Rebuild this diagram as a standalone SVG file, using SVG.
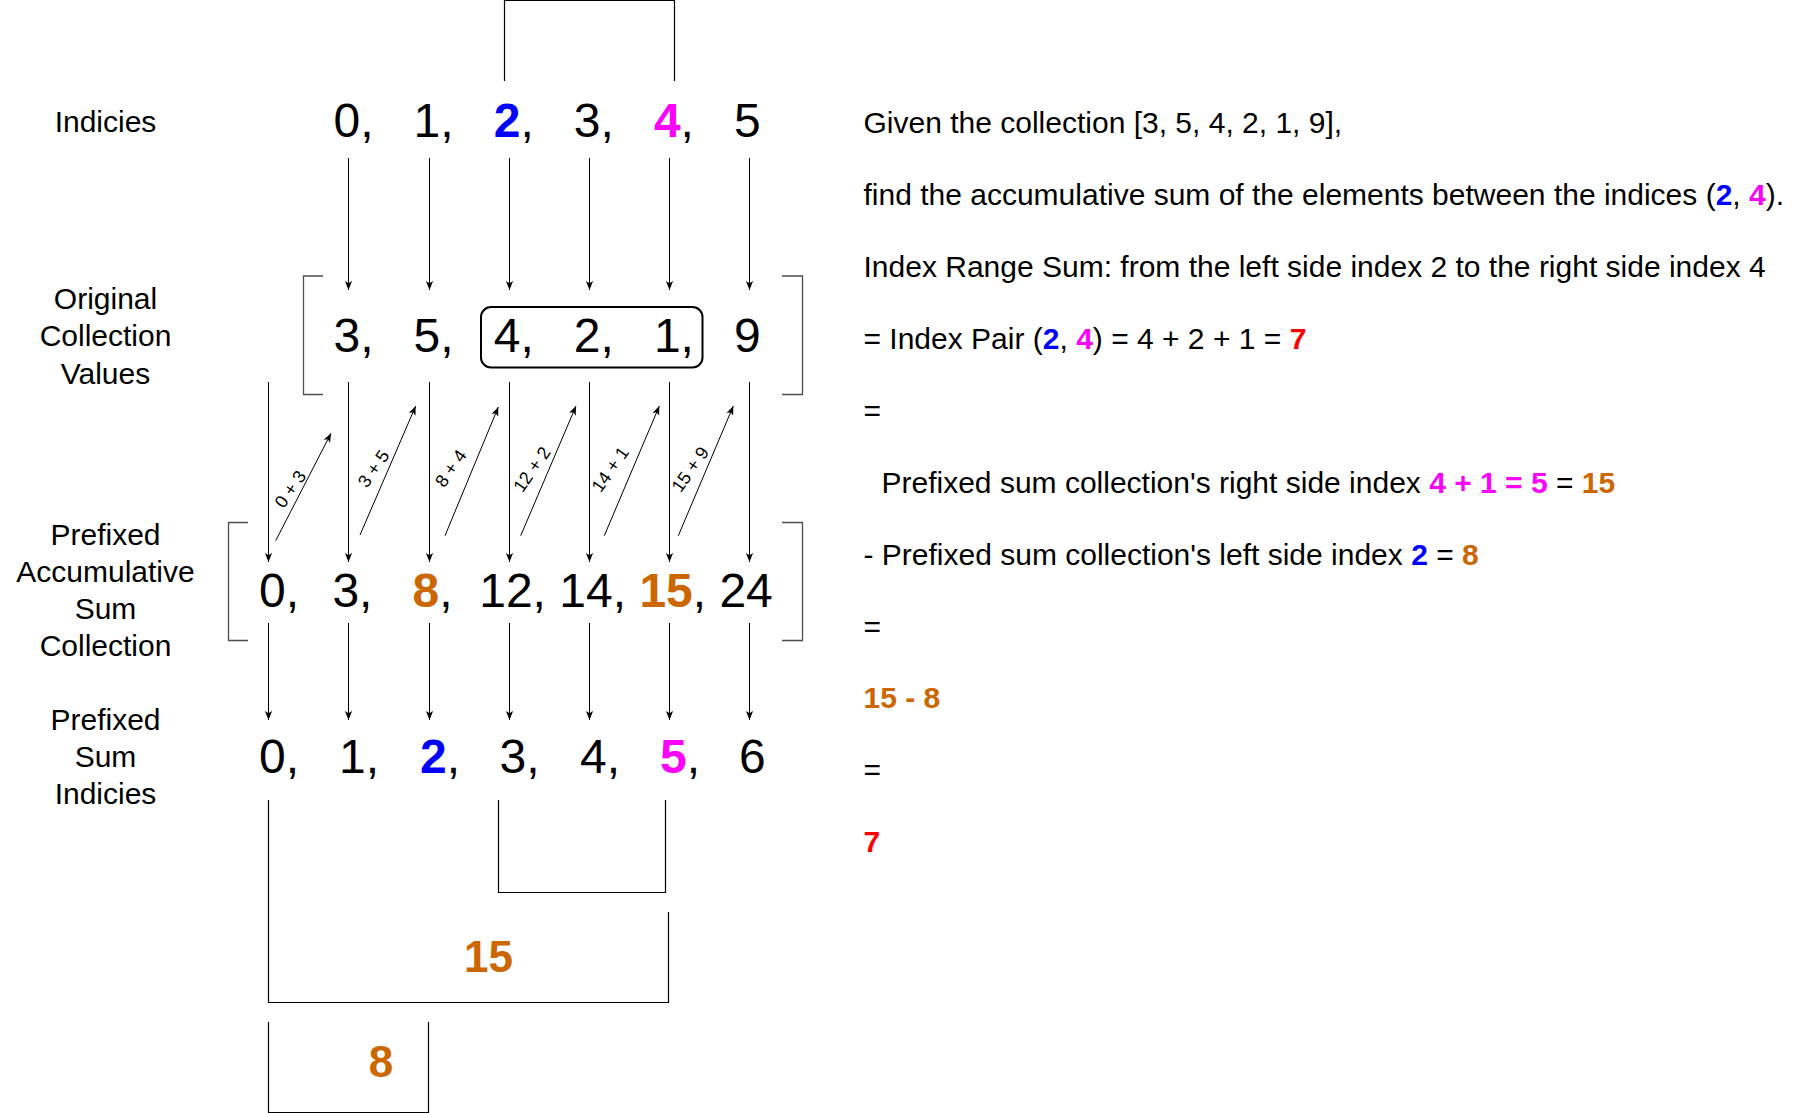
<svg xmlns="http://www.w3.org/2000/svg" width="1802" height="1113" viewBox="0 0 1802 1113">
<style>
text{font-family:"Liberation Sans",Arial,Helvetica,sans-serif;fill:#000}
.lbl{font-size:30px;text-anchor:middle}
.num{font-size:48px}
.rt{font-size:30px}
.sm{font-size:18px;text-anchor:middle}
.b{font-weight:bold}
.blue{fill:#0000FF}.mag{fill:#FF00FF}.org{fill:#CC6600}.red{fill:#FF0000}
.ln{stroke:#000;stroke-width:1;fill:none}
.arr{marker-end:url(#ah)}
.br{stroke:#4d4d4d;stroke-width:1.3;fill:none}
.bx{stroke:#000;stroke-width:1.2;fill:none}
</style>
<defs>
<marker id="ah" viewBox="0 0 10 10" refX="10" refY="5" markerWidth="9" markerHeight="9" markerUnits="userSpaceOnUse" orient="auto">
<path d="M0,1 L10,5 L0,9 L2.5,5 Z" fill="#000"/>
</marker>
</defs>
<rect width="1802" height="1113" fill="#fff"/>

<g id="label-indicies"><text class="lbl" x="105.5" y="131.5">Indicies</text></g>
<g id="label-original"><text class="lbl" x="105.5" y="309">Original</text><text class="lbl" x="105.5" y="346">Collection</text><text class="lbl" x="105.5" y="383.5">Values</text></g>
<g id="label-prefixed-acc"><text class="lbl" x="105.5" y="544.5">Prefixed</text><text class="lbl" x="105.5" y="581.5">Accumulative</text><text class="lbl" x="105.5" y="619">Sum</text><text class="lbl" x="105.5" y="656">Collection</text></g>
<g id="label-prefixed-idx"><text class="lbl" x="105.5" y="730">Prefixed</text><text class="lbl" x="105.5" y="767">Sum</text><text class="lbl" x="105.5" y="803.5">Indicies</text></g>

<g id="row-indices">
<text class="num" x="333.5" y="137">0,</text>
<text class="num" x="413.6" y="137">1,</text>
<text class="num" x="493.7" y="137"><tspan class="b blue">2</tspan>,</text>
<text class="num" x="573.8" y="137">3,</text>
<text class="num" x="653.9" y="137"><tspan class="b mag">4</tspan>,</text>
<text class="num" x="734" y="137">5</text>
</g>

<g id="row-values">
<text class="num" x="333.5" y="352">3,</text>
<text class="num" x="413.6" y="352">5,</text>
<text class="num" x="493.7" y="352">4,</text>
<text class="num" x="573.8" y="352">2,</text>
<text class="num" x="653.9" y="352">1,</text>
<text class="num" x="734" y="352">9</text>
<rect x="481" y="307" width="221.5" height="60.5" rx="10" ry="10" fill="none" stroke="#000" stroke-width="2"/>
<path class="br" d="M323,276 H303.5 V394.5 H323"/>
<path class="br" d="M782,276 H802.5 V394.5 H782"/>
</g>

<g id="row-prefix-sums">
<text class="num" x="259" y="607">0,</text>
<text class="num" x="332.4" y="607">3,</text>
<text class="num" x="412.5" y="607"><tspan class="b org">8</tspan>,</text>
<text class="num" x="479.2" y="607">12,</text>
<text class="num" x="559.3" y="607">14,</text>
<text class="num" x="639.4" y="607"><tspan class="b org">15</tspan>,</text>
<text class="num" x="719.4" y="607">24</text>
<path class="br" d="M248,522.5 H228.5 V640.5 H248"/>
<path class="br" d="M782,522.5 H802.5 V640.5 H782"/>
</g>

<g id="row-prefix-indices">
<text class="num" x="259" y="773">0,</text>
<text class="num" x="339.1" y="773">1,</text>
<text class="num" x="420" y="773"><tspan class="b blue">2</tspan>,</text>
<text class="num" x="499.5" y="773">3,</text>
<text class="num" x="580" y="773">4,</text>
<text class="num" x="660" y="773"><tspan class="b mag">5</tspan>,</text>
<text class="num" x="739" y="773">6</text>
</g>

<g id="connectors">
<line class="ln arr" x1="348.5" y1="158" x2="348.5" y2="290"/>
<line class="ln arr" x1="429.5" y1="158" x2="429.5" y2="290"/>
<line class="ln arr" x1="509.5" y1="158" x2="509.5" y2="290"/>
<line class="ln arr" x1="589.5" y1="158" x2="589.5" y2="290"/>
<line class="ln arr" x1="669.5" y1="158" x2="669.5" y2="290"/>
<line class="ln arr" x1="749.5" y1="158" x2="749.5" y2="290"/>

<line class="ln arr" x1="268.5" y1="382" x2="268.5" y2="562"/>
<line class="ln arr" x1="348.5" y1="382" x2="348.5" y2="562"/>
<line class="ln arr" x1="429.5" y1="382" x2="429.5" y2="562"/>
<line class="ln arr" x1="509.5" y1="382" x2="509.5" y2="562"/>
<line class="ln arr" x1="589.5" y1="382" x2="589.5" y2="562"/>
<line class="ln arr" x1="669.5" y1="382" x2="669.5" y2="562"/>
<line class="ln arr" x1="749.5" y1="382" x2="749.5" y2="562"/>

<line class="ln arr" x1="268.5" y1="623" x2="268.5" y2="720"/>
<line class="ln arr" x1="348.5" y1="623" x2="348.5" y2="720"/>
<line class="ln arr" x1="429.5" y1="623" x2="429.5" y2="720"/>
<line class="ln arr" x1="509.5" y1="623" x2="509.5" y2="720"/>
<line class="ln arr" x1="589.5" y1="623" x2="589.5" y2="720"/>
<line class="ln arr" x1="669.5" y1="623" x2="669.5" y2="720"/>
<line class="ln arr" x1="749.5" y1="623" x2="749.5" y2="720"/>

<line class="ln arr" x1="275.7" y1="540.7" x2="331" y2="433.3"/>
<line class="ln arr" x1="360" y1="535" x2="415.7" y2="406"/>
<line class="ln arr" x1="445" y1="535.7" x2="498.3" y2="407"/>
<line class="ln arr" x1="520.7" y1="535.7" x2="576" y2="406"/>
<line class="ln arr" x1="604.3" y1="535.7" x2="659.3" y2="406"/>
<line class="ln arr" x1="678.3" y1="535.7" x2="733.3" y2="406"/>

<text class="sm" transform="translate(290.3,489) rotate(-55)" dy="0.35em">0 + 3</text>
<text class="sm" transform="translate(373.5,468.5) rotate(-55)" dy="0.35em">3 + 5</text>
<text class="sm" transform="translate(450.6,468.3) rotate(-55)" dy="0.35em">8 + 4</text>
<text class="sm" transform="translate(531.7,469.3) rotate(-55)" dy="0.35em">12 + 2</text>
<text class="sm" transform="translate(610,469.3) rotate(-55)" dy="0.35em">14 + 1</text>
<text class="sm" transform="translate(690,469.3) rotate(-55)" dy="0.35em">15 + 9</text>
</g>

<g id="top-range-bracket"><path class="bx" d="M504.5,81 V0.5 H674.5 V81"/></g>
<g id="range-box"><path class="bx" d="M498.5,800 V892.5 H665.5 V800"/></g>
<g id="sum15-box"><path class="bx" d="M268.5,800 V1002.5 H668.5 V912"/><text class="b org" x="488.5" y="972" font-size="44" text-anchor="middle">15</text></g>
<g id="sum8-box"><path class="bx" d="M268.5,1022 V1112.5 H428.5 V1022"/><text class="b org" x="381" y="1077" font-size="44" text-anchor="middle">8</text></g>

<g id="explanation">
<text class="rt" x="863.5" y="133">Given the collection [3, 5, 4, 2, 1, 9],</text>
<text class="rt" x="863.5" y="205">find the accumulative sum of the elements between the indices (<tspan class="b blue">2</tspan>, <tspan class="b mag">4</tspan>).</text>
<text class="rt" x="863.5" y="277">Index Range Sum: from the left side index 2 to the right side index 4</text>
<text class="rt" x="863.5" y="348.5">= Index Pair (<tspan class="b blue">2</tspan>, <tspan class="b mag">4</tspan>) = 4 + 2 + 1 = <tspan class="b red">7</tspan></text>
<text class="rt" x="863.5" y="420.5">=</text>
<text class="rt" x="881.5" y="492.5">Prefixed sum collection's right side index <tspan class="b mag">4 + 1 = 5</tspan> = <tspan class="b org">15</tspan></text>
<text class="rt" x="863.5" y="564.5">- Prefixed sum collection's left side index <tspan class="b blue">2</tspan> = <tspan class="b org">8</tspan></text>
<text class="rt" x="863.5" y="636.5">=</text>
<text class="rt b org" x="863.5" y="708">15 - 8</text>
<text class="rt" x="863.5" y="780">=</text>
<text class="rt b red" x="863.5" y="852">7</text>
</g>
</svg>
